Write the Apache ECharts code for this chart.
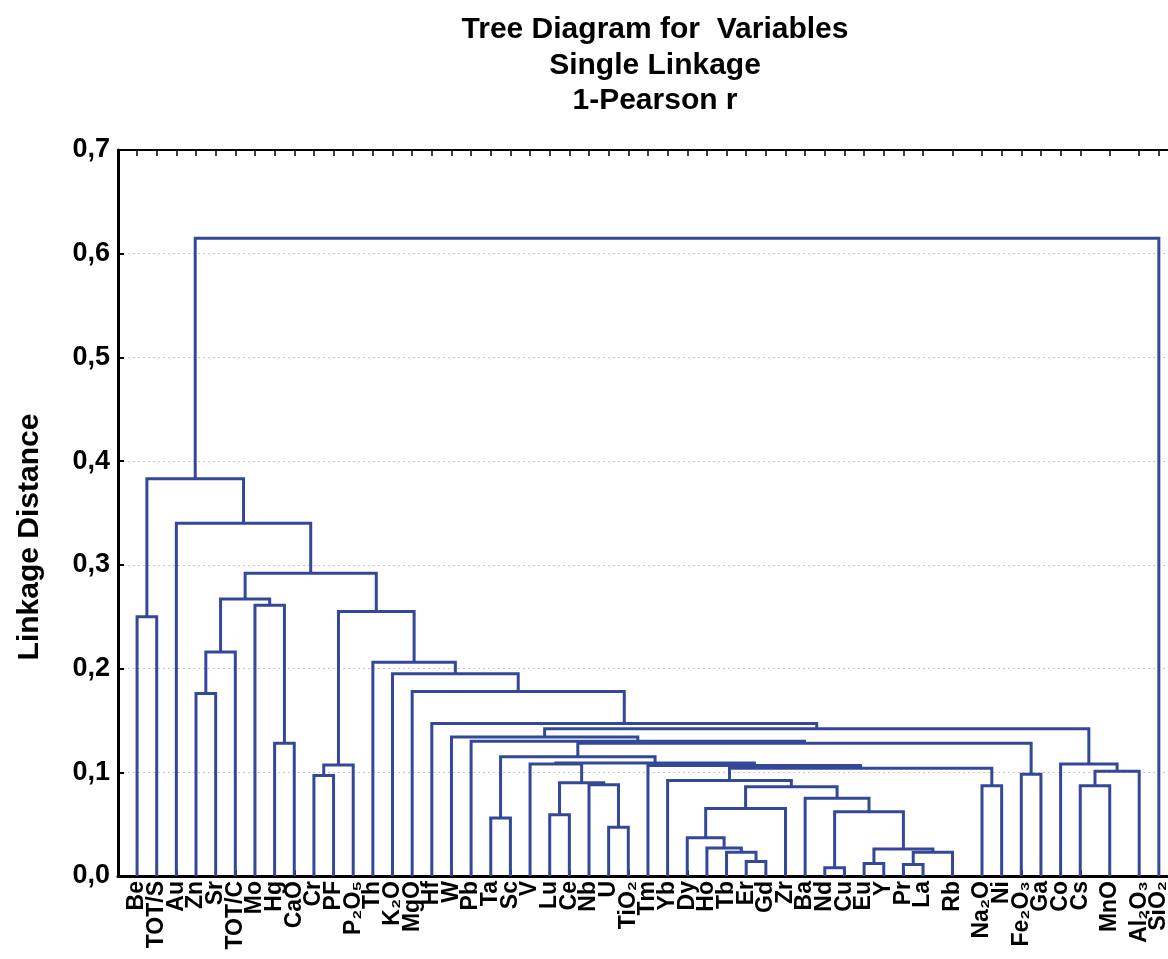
<!DOCTYPE html>
<html><head><meta charset="utf-8">
<script src="https://cdn.jsdelivr.net/npm/echarts@6/dist/echarts.min.js"></script>
<style>html,body{margin:0;padding:0;background:#fff}#c{width:1168px;height:959px}</style>
</head><body><div id="c"></div>
<script>
// Leaf order (variables)
const leaves = ['Be','TOT/S','Au','Zn','Sr','TOT/C','Mo','Hg','CaO','Cr','PF','P₂O₅','Th','K₂O','MgO','Hf','W','Pb','Ta','Sc','V','Lu','Ce','Nb','U','TiO₂','Tm','Yb','Dy','Ho','Tb','Er','Gd','Zr','Ba','Nd','Cu','Eu','Y','Pr','La','Rb','Na₂O','Ni','Fe₂O₃','Ga','Co','Cs','MnO','Al₂O₃','SiO₂'];
// Merges: operand = leaf name or index of an earlier merge
const mergeA = ['Nd','Pr','Eu','Er',1,'Tb',2,'Ho','Dy','U','Ta','Lu',0,8,'Ba',13,'Na₂O','Cs','Nb',11,'Yb','Cr','Fe₂O₃',17,20,21,'Tm','V','Co',27,10,30,'Hg','Pb','W',34,'Hf','Zn','MgO','K₂O','Th',37,'Be',25,'Mo',41,45,'Au',42,48];
const mergeB = ['Cu','La','Y','Gd','Rb',3,4,5,7,'TiO₂','Sc','Ce',6,'Zr',12,14,'Ni','MnO',9,18,15,'PF','Ga','Al₂O₃',16,'P₂O₅',24,19,23,26,29,22,'CaO',31,33,28,35,'Sr',36,38,39,'TOT/C','TOT/S',40,32,44,43,46,47,'SiO₂'];
const mergeHeight = [0.008,0.011,0.012,0.014,0.023,0.023,0.026,0.027,0.037,0.047,0.056,0.059,0.062,0.065,0.075,0.086,0.087,0.087,0.088,0.090,0.092,0.097,0.098,0.101,0.104,0.107,0.1065,0.108,0.108,0.109,0.115,0.128,0.128,0.130,0.134,0.142,0.147,0.176,0.178,0.195,0.206,0.216,0.250,0.255,0.261,0.267,0.292,0.340,0.383,0.615];
const yTickLabels = ['0,0','0,1','0,2','0,3','0,4','0,5','0,6','0,7'];

// ---- layout ----
const X_MIN = -0.97, X_MAX = 53;
const halfGapAfter = ['La','Rb','Cs','MnO'];
const leafPos = {}; const posList = []; let p = 0;
leaves.forEach(n => { leafPos[n] = p; posList.push(p); p += halfGapAfter.includes(n) ? 1.5 : 1; });
const posName = {}; leaves.forEach(n => { posName[leafPos[n]] = n; });
const labelValues = [X_MIN].concat(posList, [X_MAX]); // empty sentinels at the ends
const nodeX = [];
const links = [];
function ref(o){ return typeof o === 'number' ? [nodeX[o], mergeHeight[o]] : [leafPos[o], 0]; }
mergeA.forEach((a, i) => {
  const ra = ref(a), rb = ref(mergeB[i]);
  nodeX[i] = (ra[0] + rb[0]) / 2;
  links.push([ra[0], ra[1], rb[0], rb[1], mergeHeight[i]]);
});

const FONT = '"Liberation Sans", Arial, sans-serif';
const LINE = '#34489a';
const chart = echarts.init(document.getElementById('c'), null, {renderer: 'canvas'});
const xCommon = {type: 'value', min: X_MIN, max: X_MAX, splitLine: {show: false}};
chart.setOption({
  backgroundColor: '#fff',
  animation: false,
  graphic: [
    {type: 'text', x: 655, y: 30, style: {text: 'Tree Diagram for  Variables', font: 'bold 30px ' + FONT, fill: '#000', textAlign: 'center', textVerticalAlign: 'middle'}},
    {type: 'text', x: 655, y: 66, style: {text: 'Single Linkage', font: 'bold 30px ' + FONT, fill: '#000', textAlign: 'center', textVerticalAlign: 'middle'}},
    {type: 'text', x: 655, y: 101, style: {text: '1-Pearson r', font: 'bold 30px ' + FONT, fill: '#000', textAlign: 'center', textVerticalAlign: 'middle'}},
    {type: 'text', x: 30, y: 537, rotation: Math.PI / 2, style: {text: 'Linkage Distance', font: 'bold 30px ' + FONT, fill: '#000', textAlign: 'center', textVerticalAlign: 'middle'}}
  ],
  grid: {left: 118, top: 150, width: 1060.5, height: 726, containLabel: false, outerBoundsMode: 'none'},
  xAxis: [
    Object.assign({}, xCommon, {
      position: 'bottom',
      axisLine: {show: true, onZero: false, lineStyle: {color: '#000', width: 3}},
      axisTick: {show: true, inside: true, length: 6, customValues: posList, lineStyle: {color: '#000', width: 2}},
      axisLabel: {show: true, customValues: labelValues, rotate: 90, margin: 5, showMinLabel: true, showMaxLabel: true, hideOverlap: false,
        color: '#000', fontSize: 23, fontWeight: 'bold', fontFamily: FONT,
        formatter: v => posName[v] || ''}
    }),
    Object.assign({}, xCommon, {
      position: 'top',
      axisLine: {show: true, onZero: false, lineStyle: {color: '#000', width: 2}},
      axisTick: {show: true, inside: true, length: 6, customValues: posList, lineStyle: {color: '#000', width: 1.5}},
      axisLabel: {show: false}
    })
  ],
  yAxis: {
    type: 'value', min: 0, max: 0.7, interval: 0.1,
    axisLine: {show: true, onZero: false, lineStyle: {color: '#000', width: 3}},
    axisTick: {show: true, inside: true, length: 6, lineStyle: {color: '#000', width: 2}},
    axisLabel: {color: '#000', fontSize: 27, fontWeight: 'bold', fontFamily: FONT, margin: 8, showMinLabel: true, showMaxLabel: true,
      formatter: v => yTickLabels[Math.round(v * 10)]},
    splitLine: {show: true, lineStyle: {color: '#c8c8c8', type: [2, 3], width: 1}}
  },
  series: [{
    type: 'custom',
    coordinateSystem: 'cartesian2d',
    xAxisIndex: 0, yAxisIndex: 0,
    data: links,
    encode: {x: [0, 2], y: [1, 3, 4]},
    renderItem: (params, api) => {
      const x1 = api.value(0), h1 = api.value(1), x2 = api.value(2), h2 = api.value(3), H = api.value(4);
      return {
        type: 'polyline',
        shape: {points: [api.coord([x1, h1]), api.coord([x1, H]), api.coord([x2, H]), api.coord([x2, h2])]},
        style: {stroke: LINE, lineWidth: 3, fill: null, lineJoin: 'miter'}
      };
    },
    z: 3
  }]
});
</script></body></html>
